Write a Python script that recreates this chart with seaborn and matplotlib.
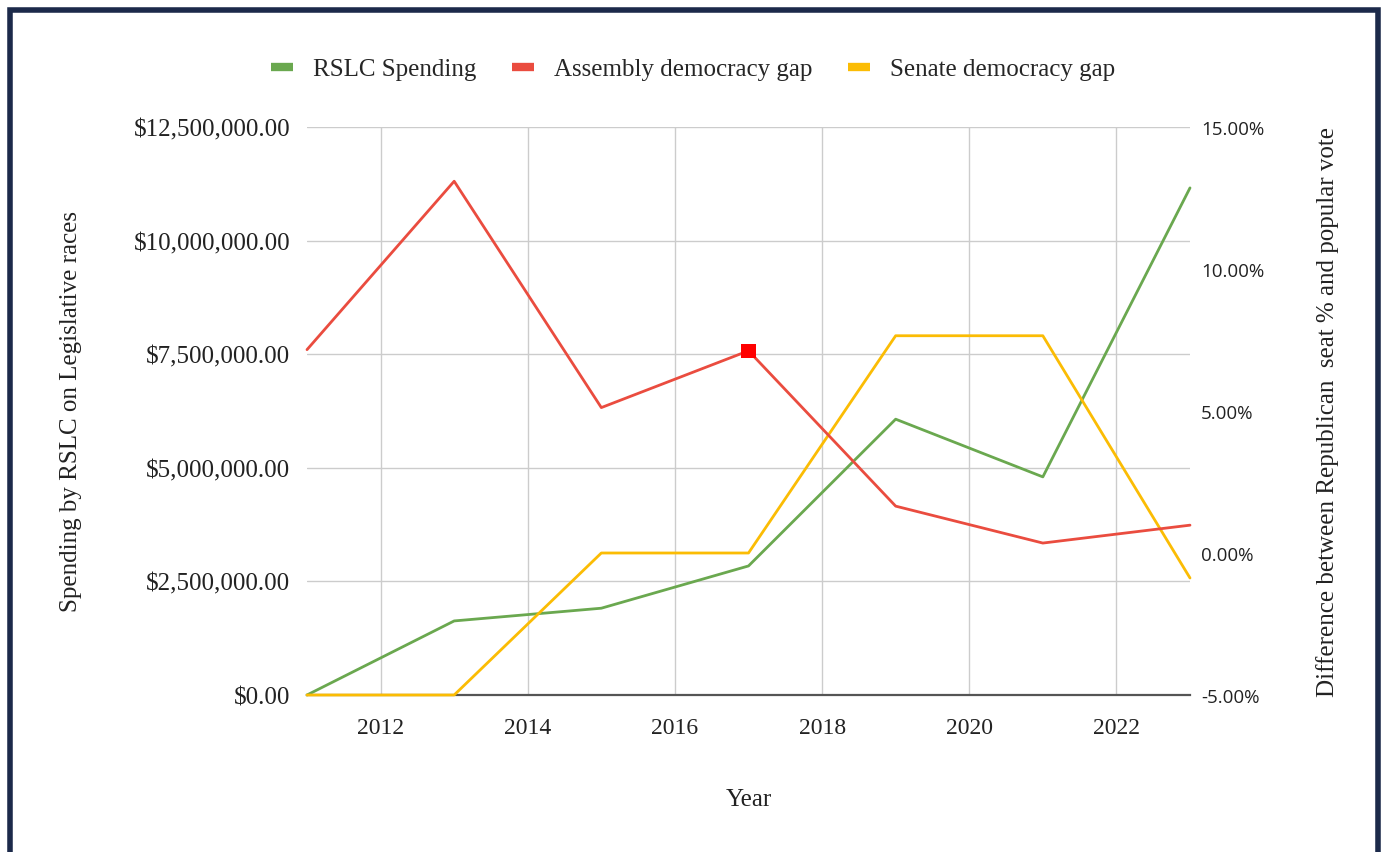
import matplotlib
matplotlib.use("Agg")
import matplotlib.pyplot as plt
import matplotlib.patches as mpatches
from matplotlib.lines import Line2D
from matplotlib.ticker import FuncFormatter, FixedLocator
import seaborn as sns
import pandas as pd

years = [2011, 2013, 2015, 2017, 2019, 2021, 2023]
rslc_spending = [0, 1630000, 1910000, 2840000, 6070000, 4800000, 11160000]
assembly_gap = [7.16, 13.09, 5.12, 7.12, 1.65, 0.35, 0.98]
senate_gap = [-5.0, -5.0, 0.0, 0.0, 7.65, 7.65, -0.88]
series_names = ["RSLC Spending", "Assembly democracy gap", "Senate democracy gap"]
x_ticks = [2012, 2014, 2016, 2018, 2020, 2022]
left_ticks = [0, 2500000, 5000000, 7500000, 10000000, 12500000]
right_ticks = [-5, 0, 5, 10, 15]

GREEN = "#6aa84f"
RED = "#ea4c3f"
YELLOW = "#fbbc04"
SERIF = "Liberation Serif"
TXT = "#222222"

sns.set_theme(style="white")
plt.rcParams["font.family"] = [SERIF, "DejaVu Serif"]

fig = plt.figure(figsize=(13.81, 8.53), dpi=100)
ax = fig.add_axes([307/1381, 1-696/853, (1190-307)/1381, (696-128)/853])
ax2 = ax.twinx()

df = pd.DataFrame({"Year": years, "RSLC": rslc_spending,
                   "Assembly": assembly_gap, "Senate": senate_gap})

sns.lineplot(data=df, x="Year", y="RSLC", ax=ax, color=GREEN, linewidth=2.0, zorder=3, clip_on=False)
sns.lineplot(data=df, x="Year", y="Assembly", ax=ax2, color=RED, linewidth=2.0, zorder=4, clip_on=False)
sns.lineplot(data=df, x="Year", y="Senate", ax=ax2, color=YELLOW, linewidth=2.0, zorder=3, clip_on=False)
# highlighted point
hi = df[df["Year"] == 2017]
sns.scatterplot(data=hi, x="Year", y="Assembly", ax=ax2, color="#ff0000", marker="s",
                s=110, edgecolor="none", zorder=5)

ax.set_xlim(2011, 2023)
ax.set_ylim(0, 12500000)
ax2.set_ylim(-5, 15)

ax.xaxis.set_major_locator(FixedLocator(x_ticks))
ax.yaxis.set_major_locator(FixedLocator(left_ticks))
ax2.yaxis.set_major_locator(FixedLocator(right_ticks))
ax.yaxis.set_major_formatter(FuncFormatter(lambda v, p: f"${v:,.2f}"))
ax2.yaxis.set_major_formatter(FuncFormatter(lambda v, p: f"{v:.2f}%"))

ax.grid(True, color="#cccccc", linewidth=1.0)
ax2.grid(False)
ax.set_axisbelow(True)
for a in (ax, ax2):
    for s in a.spines.values():
        s.set_visible(False)
ax.spines["bottom"].set_visible(True)
ax.spines["bottom"].set_color("#555555")
ax.spines["bottom"].set_linewidth(1.6)
ax.spines["bottom"].set_zorder(2.5)

ax.tick_params(axis="y", length=0, pad=12)
ax.tick_params(axis="x", length=0, pad=16)
ax2.tick_params(axis="y", length=0, pad=8)
for lab in ax.get_yticklabels():
    lab.set_fontsize(18)
    lab.set_color(TXT)
for lab in ax.get_xticklabels():
    lab.set_fontsize(17)
    lab.set_color(TXT)
for lab in ax2.get_yticklabels():
    lab.set_fontsize(13.5)
    lab.set_family(["Open Sans", "DejaVu Sans"])
    lab.set_color(TXT)

ax.set_xlabel("Year", fontsize=18, color=TXT, labelpad=36)
ax.set_ylabel("Spending by RSLC on Legislative races", fontsize=18, color=TXT, labelpad=37)
ax2.set_ylabel("Difference between Republican  seat % and popular vote", fontsize=18,
               color=TXT, labelpad=37)

handles = [Line2D([0], [0], color=c, linewidth=6, solid_capstyle="butt") for c in (GREEN, RED, YELLOW)]
fig.legend(handles, series_names, loc="center", bbox_to_anchor=(693/1381, 1-70/853),
           ncol=3, frameon=False, fontsize=18, handlelength=0.9, handletextpad=0.8,
           columnspacing=1.4)

# navy frame
frame = mpatches.Rectangle((10/1381, -0.05), (1378-10)/1381, 1.05 - 11/853,
                           transform=fig.transFigure, fill=False,
                           edgecolor="#1c2a4a", linewidth=4.0, zorder=10)
fig.patches.append(frame)

fig.savefig("out.png", dpi=100)
